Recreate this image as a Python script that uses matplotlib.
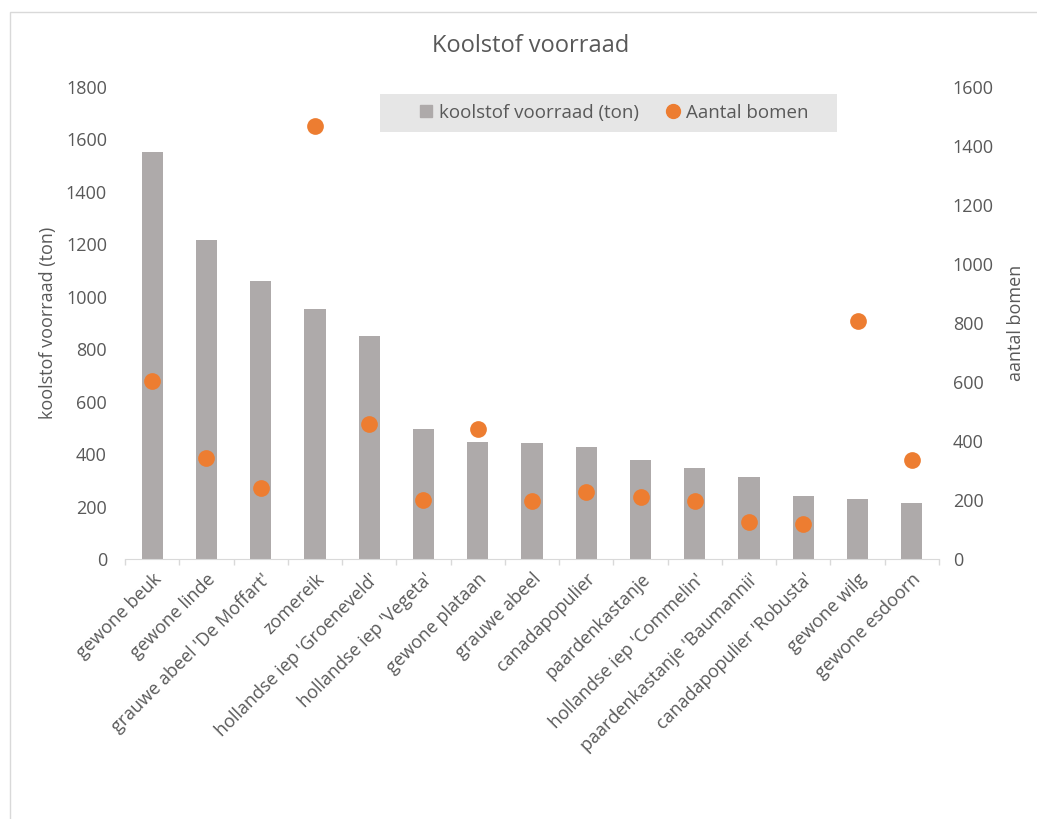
import matplotlib
matplotlib.use("Agg")
import matplotlib.pyplot as plt
from matplotlib.patches import Rectangle
from matplotlib.lines import Line2D
import numpy as np

categories = ["gewone beuk", "gewone linde", "grauwe abeel 'De Moffart'", "zomereik",
              "hollandse iep 'Groeneveld'", "hollandse iep 'Vegeta'", "gewone plataan",
              "grauwe abeel", "canadapopulier", "paardenkastanje", "hollandse iep 'Commelin'",
              "paardenkastanje 'Baumannii'", "canadapopulier 'Robusta'", "gewone wilg",
              "gewone esdoorn"]
koolstof = [1552, 1217, 1062, 953, 850, 494, 448, 443, 429, 377, 347, 313, 241, 229, 212]
aantal = [602, 344, 242, 1467, 456, 200, 440, 198, 228, 210, 195, 124, 118, 807, 334]
left_ticks = list(range(0, 1801, 200))
right_ticks = list(range(0, 1601, 200))

TXT = "#595959"
BAR = "#aeaaaa"
ORG = "#ed7d31"
GRID = "#d9d9d9"
FS = 13
plt.rcParams['font.family'] = ['Open Sans', 'DejaVu Sans']

fig = plt.figure(figsize=(10.37, 8.19), dpi=100)
W, H = 1037, 819
# chart border
fig.patches.append(Rectangle((10 / W, -0.1), 1.2, 1 - 12 / H + 0.1, transform=fig.transFigure,
                             fill=False, edgecolor=GRID, linewidth=1))

ax = fig.add_axes([125 / W, 1 - 559 / H, (939 - 125) / W, (559 - 87) / H])
ax2 = ax.twinx()
x = np.arange(len(categories))
ax.bar(x, koolstof, width=0.39, color=BAR, zorder=2)
ax2.scatter(x, aantal, s=145, color=ORG, zorder=3, linewidths=0)

ax.set_xlim(-0.5, len(categories) - 0.5)
ax.set_ylim(0, 1800)
ax2.set_ylim(0, 1600)
ax.set_yticks(left_ticks)
ax2.set_yticks(right_ticks)
ax.set_xticks(x)
ax.set_xticklabels(categories, rotation=45, ha='right', rotation_mode='anchor',
                   fontsize=FS, color=TXT)
ax.set_xticks(np.arange(-0.5, len(categories), 1.0), minor=True)
ax.tick_params(axis='x', which='major', length=0, pad=8)
ax.tick_params(axis='x', which='minor', length=4, color=GRID, width=1)
ax.tick_params(axis='y', length=0, pad=13, labelsize=FS, labelcolor=TXT)
ax2.tick_params(axis='y', length=0, pad=10, labelsize=FS, labelcolor=TXT)
for a in (ax, ax2):
    for s in ('top', 'left', 'right'):
        a.spines[s].set_visible(False)
    a.spines['bottom'].set_color(GRID)
ax2.spines['bottom'].set_visible(False)

ax.set_ylabel("koolstof voorraad (ton)", fontsize=FS, color=TXT)
ax.yaxis.set_label_coords(-0.0835, 0.5)
ax2.set_ylabel("aantal bomen", fontsize=FS, color=TXT)
ax2.yaxis.set_label_coords(1.0835, 0.5)

fig.text(531 / W, 1 - 46 / H, "Koolstof voorraad", ha='center', va='center',
         fontsize=17, color=TXT)

# legend
fig.patches.append(Rectangle((380 / W, 1 - 132 / H), (837 - 380) / W, (132 - 94) / H,
                             transform=fig.transFigure, facecolor="#e6e6e6",
                             edgecolor='none', zorder=5))
handles = [Line2D([], [], marker='s', linestyle='none', markersize=8, color=BAR),
           Line2D([], [], marker='o', linestyle='none', markersize=10, color=ORG)]
leg = fig.legend(handles, ["koolstof voorraad (ton)", "Aantal bomen"], loc='center',
                 bbox_to_anchor=(614.5 / W, 1 - 113 / H), ncol=2, frameon=False,
                 fontsize=13.5, handlelength=0.6, handletextpad=0.4, columnspacing=1.5,
                 labelcolor=TXT)
leg.set_zorder(6)

fig.savefig("out.png", dpi=100)
